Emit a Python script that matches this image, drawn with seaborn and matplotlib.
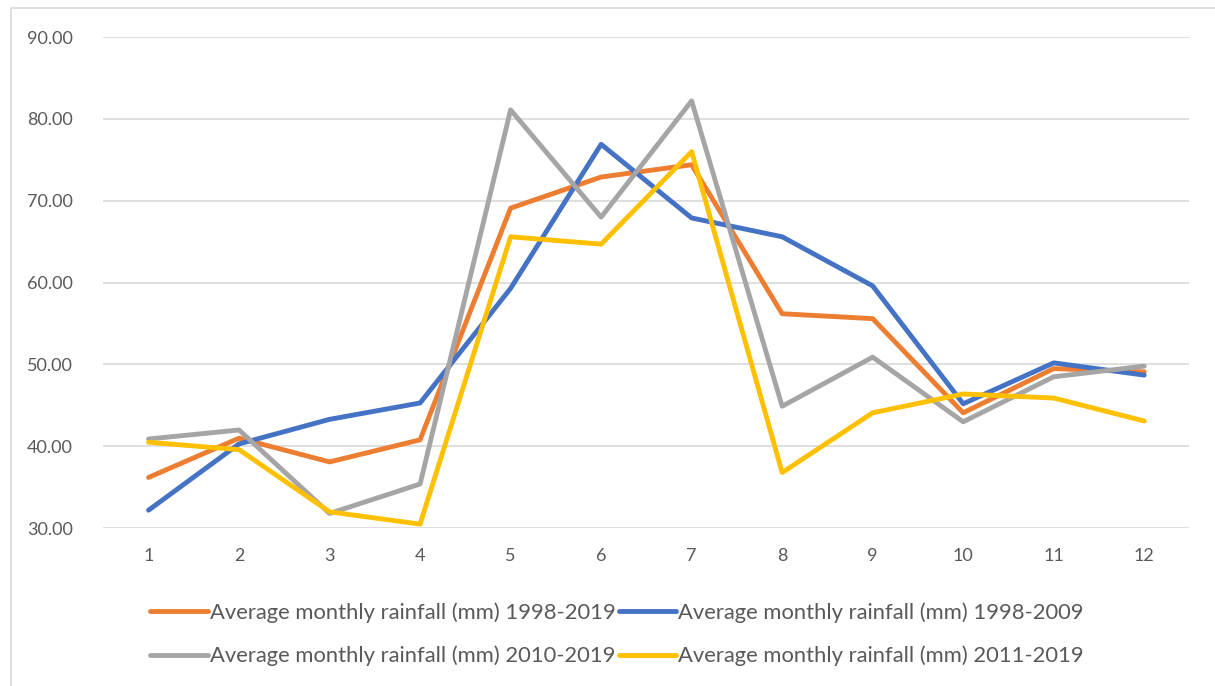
import pandas as pd
import matplotlib.pyplot as plt
import seaborn as sns
from matplotlib.patches import Rectangle

# Données
months = list(range(1, 13))
rain_1998_2019 = [36.2, 41.0, 38.1, 40.8, 69.1, 72.9, 74.4, 56.2, 55.6, 44.1, 49.5, 49.1]
rain_1998_2009 = [32.2, 40.3, 43.3, 45.3, 59.3, 76.9, 67.9, 65.6, 59.6, 45.2, 50.2, 48.7]
rain_2010_2019 = [40.9, 42.0, 31.8, 35.4, 81.1, 68.0, 82.2, 44.9, 50.9, 43.0, 48.5, 49.8]
rain_2011_2019 = [40.5, 39.6, 32.0, 30.5, 65.6, 64.7, 76.0, 36.8, 44.1, 46.4, 45.9, 43.1]

series_names = [
    "Average monthly rainfall (mm) 1998-2019",
    "Average monthly rainfall (mm) 1998-2009",
    "Average monthly rainfall (mm) 2010-2019",
    "Average monthly rainfall (mm) 2011-2019",
]
colors = ["#ED7D31", "#4472C4", "#A5A5A5", "#FFC000"]

df = pd.concat([
    pd.DataFrame({"month": months, "rain": vals, "serie": name})
    for name, vals in zip(series_names, [rain_1998_2019, rain_1998_2009, rain_2010_2019, rain_2011_2019])
])

sns.set_style("white")
plt.rcParams["font.family"] = ["Lato", "DejaVu Sans"]

fig = plt.figure(figsize=(12.15, 6.86), dpi=100)
ax = fig.add_axes([0.085, 0.230, 0.894, 0.716])
sns.lineplot(data=df, x="month", y="rain", hue="serie", palette=colors,
             linewidth=3.5, ax=ax, legend=True)

ax.set_xlim(0.5, 12.5)
ax.set_ylim(30, 90)
ax.set_xticks(months)
ax.set_yticks(range(30, 91, 10))
ax.set_yticklabels([f"{v:.2f}" for v in range(30, 91, 10)])
ax.set_xlabel("")
ax.set_ylabel("")
ax.grid(axis="y", color="#D9D9D9", linewidth=1.2)
ax.set_axisbelow(True)
for s in ax.spines.values():
    s.set_visible(False)
ax.tick_params(axis="both", length=0, labelsize=13, labelcolor="#595959")
ax.tick_params(axis="x", pad=14)
ax.tick_params(axis="y", pad=22)

# légende sur 2 lignes, dans l'ordre d'Excel
handles, labels = ax.get_legend_handles_labels()
order = [0, 2, 1, 3]
ax.legend([handles[i] for i in order], [labels[i] for i in order],
          ncol=2, loc="center", bbox_to_anchor=(0.473, -0.216),
          frameon=False, fontsize=15.8, labelcolor="#595959",
          handlelength=2.6, handletextpad=0.1, columnspacing=0.15,
          labelspacing=1.05)

fig.patches.append(Rectangle((0.009, -0.01), 1.0, 0.999, transform=fig.transFigure,
                             fill=False, edgecolor="#D9D9D9", linewidth=1.2))

plt.savefig("out.png", dpi=100)
